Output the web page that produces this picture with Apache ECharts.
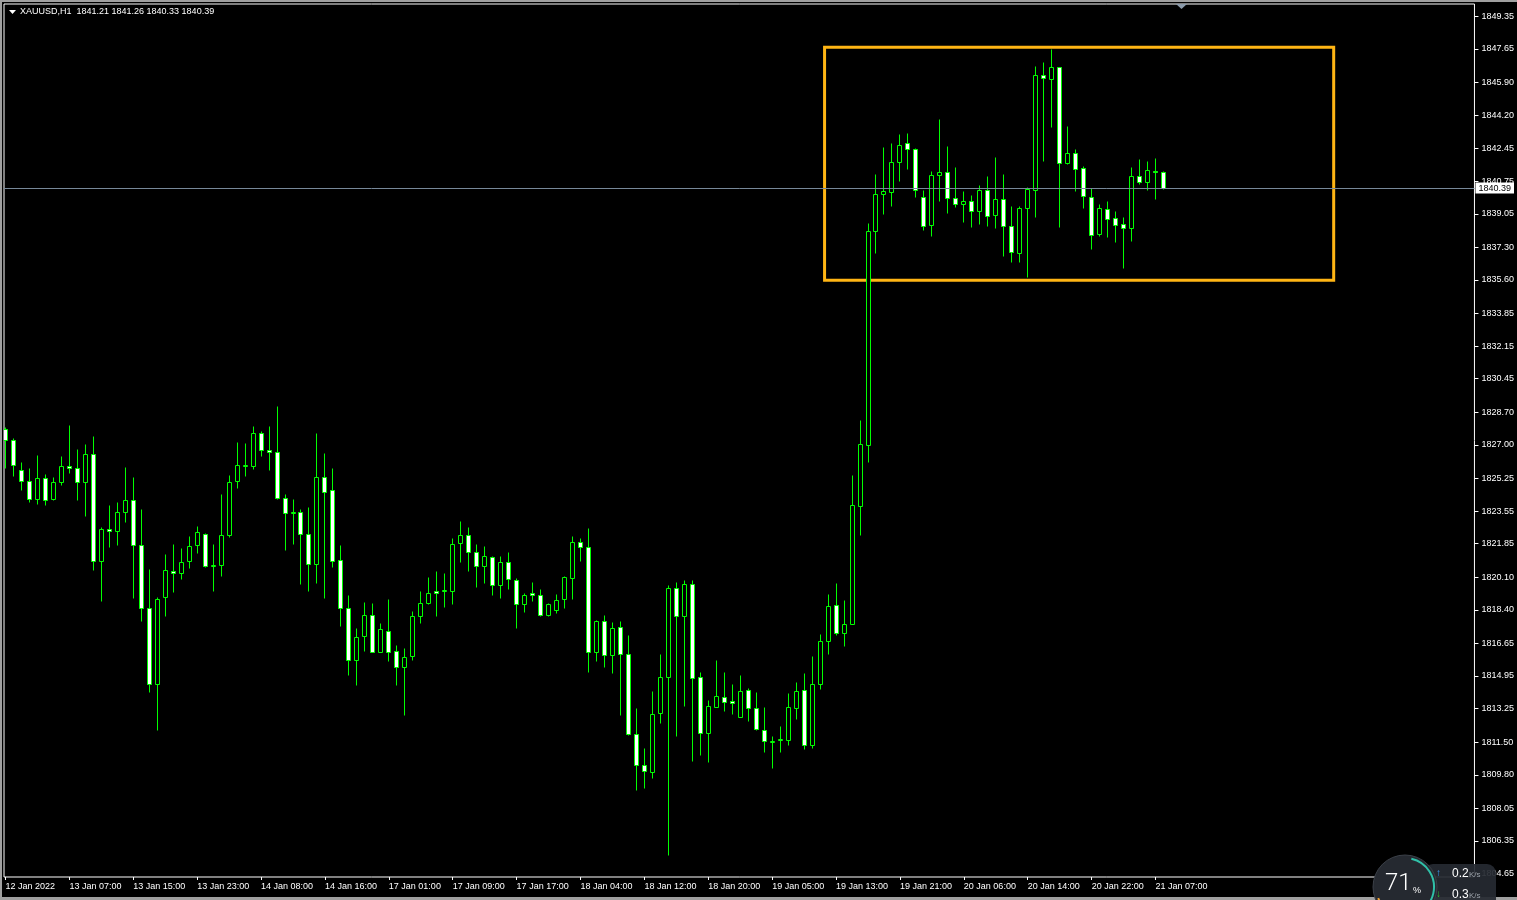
<!DOCTYPE html>
<html><head><meta charset="utf-8">
<script src="https://cdn.jsdelivr.net/npm/echarts@6/dist/echarts.min.js"></script>
<style>html,body{margin:0;padding:0;background:#000;overflow:hidden;}#c{width:1517px;height:900px;}</style>
</head><body><div id="c"></div>
<script>
const symbolTitle = 'XAUUSD,H1  1841.21 1841.26 1840.33 1840.39';
const opens = [1827.82,1827.24,1825.68,1825.11,1824.20,1825.26,1824.20,1825.05,1825.89,1825.78,
1825.05,1826.51,1820.93,1822.60,1822.50,1823.49,1824.11,1821.77,1818.48,1814.52,
1819.06,1820.41,1820.31,1820.93,1821.77,1822.34,1820.67,1820.73,1822.29,1825.11,
1825.92,1825.89,1827.61,1826.72,1826.62,1824.22,1823.47,1823.49,1822.34,1820.78,
1825.31,1824.64,1820.99,1818.48,1815.77,1817.02,1818.12,1816.22,1817.28,1816.24,
1815.41,1815.98,1818.07,1818.74,1819.37,1819.37,1819.37,1821.87,1822.29,1821.40,
1820.67,1821.14,1819.68,1820.88,1819.94,1818.69,1819.27,1819.16,1818.12,1818.38,
1818.95,1820.05,1821.92,1821.66,1816.19,1817.81,1816.03,1817.49,1816.09,1811.91,
1810.30,1809.93,1813.01,1814.89,1819.53,1818.07,1819.73,1814.89,1811.97,1813.32,
1813.84,1813.63,1812.80,1814.21,1813.27,1812.12,1811.55,1811.60,1811.60,1813.27,
1814.21,1811.34,1814.52,1816.76,1818.64,1817.18,1817.65,1823.83,1826.98,1838.14,
1840.08,1840.17,1841.74,1842.73,1842.42,1839.91,1838.45,1841.06,1841.22,1839.86,
1839.55,1839.70,1839.18,1840.28,1838.97,1839.81,1838.40,1836.99,1839.34,1840.28,
1846.27,1846.07,1846.69,1841.69,1842.21,1841.42,1839.91,1837.98,1839.29,1838.82,
1838.51,1838.30,1841.01,1840.70,1841.27,1841.21];
const closes = [1827.26,1825.94,1825.11,1824.20,1825.26,1824.15,1825.05,1825.89,1825.78,1825.05,
1826.51,1820.93,1822.60,1822.50,1823.49,1824.11,1821.77,1818.48,1814.52,1818.95,
1820.46,1820.31,1820.88,1821.72,1822.45,1820.67,1820.73,1822.29,1825.05,1825.94,
1825.94,1827.61,1826.72,1826.62,1824.22,1823.44,1823.49,1822.34,1820.78,1825.31,
1824.53,1820.93,1818.48,1815.77,1816.97,1818.12,1816.22,1817.39,1816.22,1815.41,
1815.93,1818.07,1818.74,1819.27,1819.27,1819.42,1821.82,1822.29,1821.40,1820.67,
1821.19,1819.68,1820.88,1820.00,1818.69,1819.16,1819.16,1818.12,1818.69,1818.90,
1820.10,1821.92,1821.66,1816.19,1817.81,1816.03,1817.44,1816.09,1811.91,1810.30,
1809.98,1812.96,1814.89,1819.53,1818.07,1819.73,1814.83,1811.97,1813.37,1813.90,
1813.58,1813.53,1814.16,1813.27,1812.17,1811.55,1811.58,1811.65,1813.32,1814.16,
1811.34,1814.52,1816.76,1818.59,1817.18,1817.65,1823.85,1827.05,1838.14,1840.08,
1840.24,1841.74,1842.62,1842.42,1840.28,1838.40,1841.06,1841.22,1839.86,1839.55,
1839.70,1839.18,1840.28,1838.92,1839.81,1838.40,1837.05,1839.34,1840.33,1846.27,
1846.12,1846.69,1841.69,1842.21,1841.37,1839.96,1837.93,1839.34,1838.77,1838.45,
1838.30,1841.01,1840.70,1841.32,1841.25,1840.39];
const lows = [1825.80,1825.38,1824.65,1824.04,1823.94,1823.89,1824.15,1824.93,1825.52,1824.15,
1823.31,1820.50,1818.88,1821.70,1821.80,1823.00,1819.04,1817.84,1814.13,1812.15,
1818.10,1819.35,1820.03,1820.60,1821.38,1820.64,1819.40,1820.18,1822.19,1824.74,
1825.37,1825.73,1826.41,1825.68,1824.17,1821.51,1821.82,1819.77,1819.40,1819.82,
1819.04,1820.65,1817.58,1815.02,1814.50,1816.27,1816.18,1816.20,1815.75,1814.50,
1812.94,1815.80,1817.73,1818.72,1818.10,1818.57,1818.72,1820.91,1820.44,1819.61,
1819.79,1819.19,1819.04,1819.51,1817.47,1818.27,1818.85,1818.10,1818.07,1818.22,
1818.48,1818.98,1820.93,1815.14,1815.71,1815.44,1815.13,1812.94,1811.88,1809.03,
1809.13,1809.62,1812.49,1805.61,1811.81,1813.37,1810.51,1810.82,1810.45,1813.32,
1813.11,1812.96,1812.80,1812.59,1812.12,1810.98,1810.14,1810.98,1811.34,1812.70,
1811.13,1811.18,1814.26,1816.09,1817.08,1816.53,1817.65,1822.32,1826.13,1837.02,
1839.06,1839.47,1840.78,1841.40,1839.94,1838.19,1837.88,1839.70,1839.08,1839.39,
1838.61,1838.35,1838.51,1838.40,1838.29,1836.87,1836.56,1836.56,1835.77,1838.90,
1841.82,1843.59,1838.38,1841.63,1840.23,1839.34,1837.20,1837.88,1837.83,1837.57,
1836.21,1837.62,1840.59,1840.28,1839.81,1840.33];
const highs = [1827.95,1827.35,1826.11,1825.80,1826.48,1825.49,1825.33,1826.42,1828.04,1826.79,
1827.05,1827.47,1822.71,1823.85,1824.01,1825.84,1825.31,1823.65,1820.52,1819.06,
1821.30,1821.82,1821.61,1822.24,1822.76,1822.39,1821.82,1824.43,1825.42,1827.14,
1827.09,1827.97,1827.71,1827.97,1829.02,1824.43,1824.17,1823.66,1823.77,1827.62,
1826.58,1825.80,1821.78,1819.16,1817.44,1818.80,1818.74,1817.70,1818.97,1816.55,
1816.40,1818.33,1819.37,1820.10,1820.43,1820.31,1822.15,1823.02,1822.71,1821.82,
1821.72,1821.19,1821.19,1821.40,1820.05,1819.27,1819.84,1819.47,1818.74,1819.21,
1820.15,1822.24,1822.13,1822.67,1817.86,1818.12,1817.75,1817.81,1817.08,1813.27,
1811.18,1814.16,1816.09,1819.68,1819.84,1819.94,1819.94,1815.15,1813.69,1815.77,
1815.15,1814.52,1814.99,1814.31,1814.10,1813.32,1811.81,1812.33,1814.05,1814.63,
1815.09,1815.98,1817.13,1819.21,1819.79,1818.92,1825.43,1828.30,1838.57,1841.13,
1842.54,1842.74,1843.21,1843.27,1842.47,1840.28,1841.27,1844.00,1842.57,1841.48,
1840.23,1840.02,1840.54,1841.01,1842.00,1841.13,1839.44,1839.44,1840.43,1846.74,
1846.95,1847.63,1846.69,1843.61,1842.42,1841.53,1840.38,1839.55,1839.70,1839.18,
1838.87,1841.48,1841.89,1841.79,1841.95,1841.26];
const timeLabels = ['12 Jan 2022','13 Jan 07:00','13 Jan 15:00','13 Jan 23:00','14 Jan 08:00','14 Jan 16:00',
'17 Jan 01:00','17 Jan 09:00','17 Jan 17:00','18 Jan 04:00','18 Jan 12:00','18 Jan 20:00',
'19 Jan 05:00','19 Jan 13:00','19 Jan 21:00','20 Jan 06:00','20 Jan 14:00','20 Jan 22:00','21 Jan 07:00'];
const timeLabelStep = 8;
const priceTicks = [1804.65,1806.35,1808.05,1809.80,1811.50,1813.25,1814.95,1816.65,1818.40,1820.10,
1821.85,1823.55,1825.25,1827.00,1828.70,1830.45,1832.15,1833.85,1835.60,1837.30,1839.05,1840.75,
1842.45,1844.20,1845.90,1847.65,1849.35];
const lastPrice = 1840.39;
// highlighted zone (bar index range, price range)
const zoneBars = [102.56, 166.31];
const zonePrices = [1847.73, 1835.59];

const FONT = "'Liberation Sans', Arial, sans-serif";
const GREEN = '#00ff00';

const data = opens.map((o, i) => [i, o, closes[i], lows[i], highs[i]]);
const tickIdx = timeLabels.map((_, i) => i * timeLabelStep);

function renderItem(params, api) {
  const i = api.value(0), o = api.value(1), c = api.value(2), l = api.value(3), h = api.value(4);
  const pO = api.coord([i, o]), pC = api.coord([i, c]), pL = api.coord([i, l]), pH = api.coord([i, h]);
  const x = Math.floor(pO[0]) + 0.5;
  const yT = Math.round(Math.min(pO[1], pC[1])) + 0.5;
  const yB = Math.round(Math.max(pO[1], pC[1])) + 0.5;
  const yH = Math.round(pH[1]) + 0.5, yL = Math.round(pL[1]) + 0.5;
  const bear = o > c;
  return {
    type: 'group',
    children: [
      { type: 'line', shape: { x1: x, y1: yH, x2: x, y2: yL }, style: { stroke: GREEN, lineWidth: 1 } },
      { type: 'rect', shape: { x: x - 2, y: yT, width: 4, height: Math.max(yB - yT, 1) },
        style: { fill: bear ? '#ffffff' : '#000000', stroke: GREEN, lineWidth: 1 } }
    ]
  };
}

const chart = echarts.init(document.getElementById('c'), null, { renderer: 'canvas' });
chart.setOption({
  animation: false,
  backgroundColor: '#000000',
  grid: { left: 4, top: 4, right: 40, bottom: 23, show: true, borderColor: '#ffffff', borderWidth: 1, backgroundColor: '#000' },
  xAxis: {
    type: 'value', min: -0.1875, max: 183.9375,
    axisLine: { show: false, onZero: false },
    splitLine: { show: false },
    axisTick: { show: true, customValues: tickIdx, length: 3, lineStyle: { color: '#ffffff' } },
    axisLabel: {
      customValues: tickIdx, align: 'left', margin: 5, color: '#ffffff',
      fontFamily: FONT, fontSize: 9,
      formatter: v => timeLabels[Math.round(v / timeLabelStep)] || ''
    }
  },
  yAxis: {
    type: 'value', position: 'right', min: 1804.47, max: 1849.99,
    axisLine: { show: false, onZero: false },
    splitLine: { show: false },
    axisTick: { show: true, customValues: priceTicks, length: 4, lineStyle: { color: '#ffffff' } },
    axisLabel: {
      customValues: priceTicks, margin: 7, color: '#ffffff', fontFamily: FONT, fontSize: 9,
      formatter: v => v.toFixed(2)
    }
  },
  series: [{
    type: 'custom',
    renderItem,
    clip: true,
    data,
    encode: { x: 0, y: [1, 2, 3, 4] },
    markLine: {
      silent: true, symbol: 'none', animation: false,
      lineStyle: { color: '#778899', width: 1, type: 'solid' },
      label: {
        position: 'end', distance: 1, formatter: lastPrice.toFixed(2),
        backgroundColor: '#ffffff', color: '#000000', fontFamily: FONT, fontSize: 9,
        padding: [1, 3, 1, 3]
      },
      data: [{ yAxis: lastPrice }]
    },
    markArea: {
      silent: true,
      itemStyle: { color: 'rgba(0,0,0,0)', borderColor: '#FFB514', borderWidth: 3 },
      data: [[{ coord: [zoneBars[0], zonePrices[0]] }, { coord: [zoneBars[1], zonePrices[1]] }]]
    }
  }],
  graphic: [
    { type: 'rect', z: 100, shape: { x: 0, y: 0, width: 1517, height: 2 }, style: { fill: '#a0a0a0' } },
    { type: 'rect', z: 100, shape: { x: 0, y: 0, width: 2, height: 900 }, style: { fill: '#a0a0a0' } },
    { type: 'rect', z: 100, shape: { x: 0, y: 897, width: 1517, height: 3 }, style: { fill: '#a0a0a0' } },
    { type: 'polygon', z: 100, shape: { points: [[9, 10], [16, 10], [12.5, 14]] }, style: { fill: '#ffffff' } },
    { type: 'text', z: 100, x: 20, y: 7, style: { text: symbolTitle, fill: '#ffffff', font: '9px ' + FONT } },
    { type: 'polygon', z: 100, shape: { points: [[1176, 4], [1187, 4], [1181.5, 9]] }, style: { fill: '#8c9bab' } },
    // network widget overlay
    { type: 'rect', z: 110, shape: { x: 1424, y: 864, width: 72, height: 44, r: 9 }, style: { fill: 'rgba(38,42,50,0.93)' } },
    { type: 'circle', z: 111, shape: { cx: 1405, cy: 887, r: 32 }, style: { fill: '#252930', stroke: '#3b4048', lineWidth: 1 } },
    { type: 'arc', z: 112, shape: { cx: 1405, cy: 887, r: 29, startAngle: -1.35, endAngle: 0.75, clockwise: true }, style: { stroke: '#30c0a8', lineWidth: 2, fill: null } },
    { type: 'arc', z: 112, shape: { cx: 1405, cy: 887, r: 29, startAngle: 2.3, endAngle: 2.75, clockwise: true }, style: { stroke: '#f0a030', lineWidth: 2, fill: null } },
    { type: 'text', z: 113, x: 1385, y: 872, style: { text: '71', fill: '#ffffff', font: '300 24px Roboto, sans-serif' } },
    { type: 'text', z: 113, x: 1413, y: 886, style: { text: '%', fill: '#ffffff', font: '9px ' + FONT } },
    { type: 'text', z: 113, x: 1436, y: 868, style: { text: '↑', fill: '#3aa0ff', font: 'bold 10px ' + FONT } },
    { type: 'text', z: 113, x: 1452, y: 868, style: { text: '0.2', fill: '#ffffff', font: '12px ' + FONT } },
    { type: 'text', z: 113, x: 1469, y: 871, style: { text: 'K/s', fill: '#9aa0a8', font: '8px ' + FONT } },
    { type: 'text', z: 113, x: 1436, y: 889, style: { text: '↓', fill: '#30c030', font: 'bold 10px ' + FONT } },
    { type: 'text', z: 113, x: 1452, y: 889, style: { text: '0.3', fill: '#ffffff', font: '12px ' + FONT } },
    { type: 'text', z: 113, x: 1469, y: 892, style: { text: 'K/s', fill: '#9aa0a8', font: '8px ' + FONT } }
  ]
});
</script></body></html>
